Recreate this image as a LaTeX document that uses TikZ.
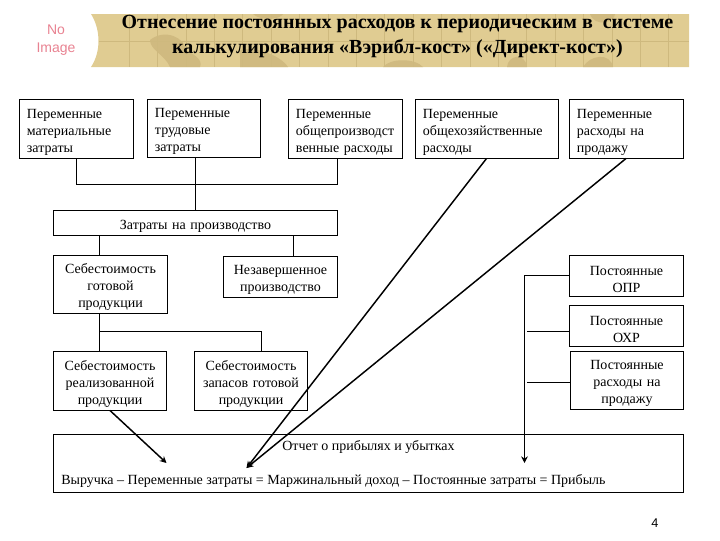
\documentclass[tikz,border=0pt]{standalone}
\usepackage{fontspec}
\setmainfont{Liberation Serif}
\setsansfont{Liberation Sans}
\usetikzlibrary{arrows.meta,calc,positioning}
\definecolor{bannertan}{RGB}{224,204,146}
\definecolor{bannerdark}{RGB}{208,186,128}
\definecolor{bannergrid}{RGB}{206,185,126}
\definecolor{noimage}{RGB}{232,130,145}
\newdimen\hdim
\newdimen\wdim
\newdimen\odim
\hdim=44.25pt
\wdim=85.5pt
\odim=5.6pt
\tikzstyle{element}=[
  draw=black,
  line width=.75pt,
  font={\fontsize{10.5}{12.8}\selectfont},
  inner xsep=\odim,
  inner ysep=0pt,
  minimum height=\hdim,
  minimum width=\wdim,
  outer sep=0pt,
  rectangle,
  align=center,
  text width=\wdim-2*\odim,
  execute at begin node={\rule{0pt}{11.5pt}},
]
\tikzstyle{leftelement}=[
  element,
  align=left,
]
\tikzstyle{narrow}=[
  minimum width=84.75pt,
  text width=84.75pt-2*\odim,
]
\tikzstyle{short}=[
  minimum height=43.5pt,
]
\tikzstyle{lowelement}=[
  element,
  minimum height=30.75pt,
]
\tikzstyle{report}=[
  font={\fontsize{10.5}{12.8}\selectfont},
  inner sep=0pt,
]
\tikzstyle{headline}=[
  font={\fontsize{15}{18.75}\selectfont\bfseries},
  align=center,
  inner sep=0pt,
]
\tikzstyle{arrow}=[
  color=black,
  draw=black,
  line width=.75pt,
]
\tikzstyle{heavyarrow}=[
  arrow,
  line width=1.1pt,
]
\tikzset{
  >={Stealth[length=5pt,width=5pt]},
  x=.75pt,
  y=-.75pt,
}
\begin{document}
\begin{tikzpicture}
      \useasboundingbox (0,0) rectangle (720,540);
      %% banner
      \fill [bannertan] (91,14) .. controls (101,30) and (101,52) .. (91,67)
      -- (689,67) -- (689,14) -- cycle;
      \fill [bannerdark] (150,40) .. controls (165,28) and (185,38) .. (186,50)
      .. controls (195,55) and (203,60) .. (200,67) -- (170,67)
      .. controls (165,55) and (150,50) .. (150,40) -- cycle;
      \fill [bannerdark] (240,50) .. controls (255,46) and (280,55) .. (288,67)
      -- (240,67) -- cycle;
      \fill [bannerdark] (253,14) -- (283,14) .. controls (280,20) and (260,21) .. (253,14) -- cycle;
      \fill [bannerdark] (383,67) .. controls (390,58) and (415,58) .. (423,67) -- cycle;
      \fill [bannerdark] (507,67) .. controls (508,55) and (525,52) .. (527,67) -- cycle;
      \fill [bannerdark] (590,14) -- (615,14) .. controls (615,22) and (595,28) .. (590,14) -- cycle;
      \fill [bannerdark] (583,67) .. controls (590,55) and (610,52) .. (613,67) -- cycle;
      \foreach \gx in {129,157.4,...,689}
        \draw [bannergrid, line width=.4pt] (\gx,14) -- (\gx,67);
      \draw [bannergrid, line width=.4pt] (99,41) -- (689,41);
      \node (noimg) [font={\sffamily\fontsize{10.5}{13.5}\selectfont}, text=noimage, align=center, inner sep=0pt] at (56,40) {No\\Image};
      \node (title) [headline] at (397.5,37) {Отнесение постоянных расходов к периодическим в\ \ системе\\калькулирования «Вэрибл-кост» («Директ-кост»)};
      \node (pagenum) [font={\sffamily\fontsize{9.5}{11}\selectfont}, inner sep=0pt] at (655,523) {4};
      %%
      \node (matvar) [leftelement] at (76.5,129) {Переменные\\материальные\\затраты};
      \node (labvar) [leftelement, narrow, short] at (204,128.5) {Переменные\\трудовые\\затраты};
      \node (genvar) [leftelement] at (345.5,129) {Переменные\\общепроизводст\\венные расходы};
      \node (admvar) [leftelement, minimum width=107.25pt, text width=107.25pt-2*\odim] at (487,129) {Переменные\\общехозяйственные\\расходы};
      \node (salvar) [leftelement] at (626.5,129) {Переменные\\расходы на\\продажу};
      %%
      \node (prodcost) [element, minimum width=213pt, text width=213pt-2*\odim, minimum height=18.75pt] at (195.5,223) {Затраты на производство};
      \node (finished) [element, short] at (110.5,284.5) {Себестоимость\\готовой\\продукции};
      \node (wip) [lowelement] at (280.5,277) {Незавершенное\\производство};
      \node (fixopr) [lowelement] at (626.5,276) {Постоянные\\ОПР};
      \node (fixoxr) [lowelement] at (626.5,326) {Постоянные\\ОХР};
      \node (fixsal) [element, narrow, short] at (627,380.5) {Постоянные\\расходы на\\продажу};
      \node (soldcost) [element, narrow] at (110,381) {Себестоимость\\реализованной\\продукции};
      \node (stockcost) [element, narrow] at (251,381) {Себестоимость\\запасов готовой\\продукции};
      %%
      \node (income) [draw=black, line width=.75pt, minimum width=472.5pt, minimum height=43.5pt, inner sep=0pt] at (368.5,463.5) {};
      \node (reporthead) [report] at (368.5,447) {Отчет о прибылях и убытках};
      \node (formula) [report, anchor=west] at (61,481) {Выручка – Переменные затраты = Маржинальный доход – Постоянные затраты = Прибыль};
      %%
      \coordinate (fixin) at (524.5,463);
      \coordinate (varin) at (246.5,468);
      \coordinate (soldin) at (166.5,463);
      \coordinate (busA) at (195.5,184.5);
      \coordinate (busB) at (99.5,331.5);
      \coordinate (oxrstub) at (526.5,331.5);
      \coordinate (salstub) at (526.5,382.5);
      %%
      \draw [arrow] (matvar.south-|76.5,0) |- (busA);
      \draw [arrow] (genvar.south-|337.5,0) |- (busA);
      \draw [arrow] (labvar.south-|195.5,0) -- (prodcost.north-|195.5,0);
      \draw [arrow] (prodcost.south-|99.5,0) -- (finished.north-|99.5,0);
      \draw [arrow] (prodcost.south-|293.5,0) -- (wip.north-|293.5,0);
      \draw [arrow] (finished.south-|99.5,0) -- (soldcost.north-|99.5,0);
      \draw [arrow] (busB) -| (stockcost.north-|261.5,0);
      \draw [->, heavyarrow] (admvar.south-|486.5,0) -- (varin);
      \draw [->, heavyarrow] (salvar.south-|626,0) -- (varin);
      \draw [->, heavyarrow] (soldcost.south-|110,0) -- (soldin);
      \draw [->, arrow] (fixopr.west|-0,275.5) -| (fixin);
      \draw [arrow] (fixoxr.west|-oxrstub) -- (oxrstub);
      \draw [arrow] (fixsal.west|-salstub) -- (salstub);
    \end{tikzpicture}
\end{document}
